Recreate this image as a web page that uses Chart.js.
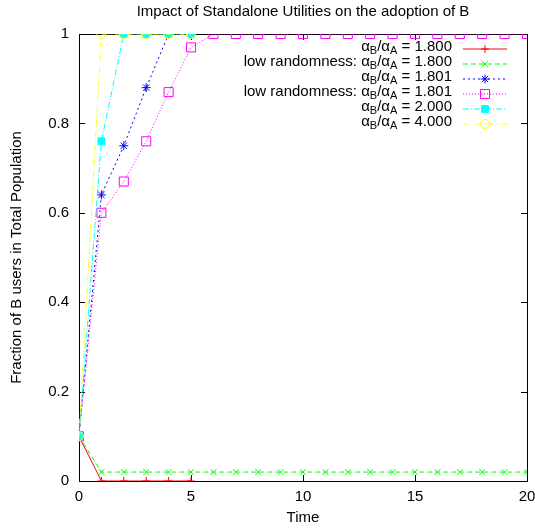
<!DOCTYPE html>
<html>
<head>
<meta charset="utf-8">
<script src="https://cdn.jsdelivr.net/npm/chart.js@4.4.1/dist/chart.umd.min.js"></script>
<style>
    html, body { margin: 0; padding: 0; background: #fff; }
</style>
</head>
<body>
<canvas id="myChart" width="535" height="529"></canvas>
<script>
const time = [0, 1, 2, 3, 4, 5, 6, 7, 8, 9, 10, 11, 12, 13, 14, 15, 16, 17, 18, 19, 20];
const ratios = ["1.800", "1.800", "1.801", "1.801", "2.000", "4.000"];
const prefixes = ["", "low randomness: ", "", "low randomness: ", "", ""];

const r1800 = [0.1, 0, 0, 0, 0, 0];
const low1800 = [0.1, 0.02, 0.02, 0.02, 0.02, 0.02, 0.02, 0.02, 0.02, 0.02, 0.02,
    0.02, 0.02, 0.02, 0.02, 0.02, 0.02, 0.02, 0.02, 0.02, 0.02];
const r1801 = [0.1, 0.64, 0.75, 0.88, 1, 1];
const low1801 = [0.1, 0.6, 0.67, 0.76, 0.87, 0.97, 1, 1, 1, 1, 1,
    1, 1, 1, 1, 1, 1, 1, 1, 1, 1];
const r2000 = [0.1, 0.76, 1, 1, 1, 1];
const r4000 = [0.1, 1, 1, 1, 1, 1];

const xTicks = [0, 5, 10, 15, 20];
const yTicks = [0, 0.2, 0.4, 0.6, 0.8, 1];

const FONT = "'Liberation Sans', Arial, sans-serif";

function pts(values) {
    return values.map((v, i) => ({ x: time[i], y: v }));
}

function series(values, color, dash, style, radius, filled) {
    return {
        data: pts(values),
        borderColor: color,
        backgroundColor: filled ? color : "rgba(0,0,0,0)",
        borderWidth: 1,
        borderDash: dash,
        pointStyle: style,
        pointRadius: radius,
        pointHoverRadius: radius,
        pointBorderWidth: 1,
        pointBorderColor: color,
        pointBackgroundColor: filled ? color : "rgba(0,0,0,0)",
        tension: 0,
        fill: false,
    };
}

const datasets = [
    series(r1800, "#ff0000", [], "cross", 4, false),
    series(low1800, "#00ff00", [5, 3], "crossRot", 4, false),
    series(r1801, "#0000ff", [2, 3], "star", 4.5, false),
    series(low1801, "#ff00ff", [1, 2], "rect", 6.4, false),
    series(r2000, "#00ffff", [6, 2, 1, 2], "rect", 4.8, true),
    series(r4000, "#ffff00", [5, 2, 1, 2, 1, 2], "circle", 4.5, false),
];
// gnuplot draws later curves on top
datasets.forEach((ds, i) => { ds.order = datasets.length - i; });

const frame = {
    id: "frame",
    beforeDatasetsDraw(chart) {
        const ctx = chart.ctx;
        const a = chart.chartArea;
        const xs = chart.scales.x, ys = chart.scales.y;
        ctx.save();
        ctx.strokeStyle = "#000";
        ctx.lineWidth = 1;
        ctx.beginPath();
        xTicks.forEach((t) => {
            const px = Math.round(xs.getPixelForValue(t)) + 0.5;
            ctx.moveTo(px, a.bottom); ctx.lineTo(px, a.bottom - 6);
            ctx.moveTo(px, a.top); ctx.lineTo(px, a.top + 6);
        });
        yTicks.forEach((t) => {
            const py = Math.round(ys.getPixelForValue(t)) + 0.5;
            ctx.moveTo(a.left, py); ctx.lineTo(a.left + 6, py);
            ctx.moveTo(a.right, py); ctx.lineTo(a.right - 6, py);
        });
        ctx.stroke();
        ctx.strokeRect(Math.round(a.left) + 0.5, Math.round(a.top) + 0.5,
            Math.round(a.right - a.left), Math.round(a.bottom - a.top));
        ctx.restore();
    },
};

const gpLegend = {
    id: "gpLegend",
    afterDraw(chart) {
        const ctx = chart.ctx;
        const a = chart.chartArea;
        const textRight = a.right - 75;
        const x0 = a.right - 64, x1 = a.right - 20;
        const big = "15px " + FONT, small = "11px " + FONT;
        ctx.save();
        ctx.textBaseline = "middle";
        ctx.textAlign = "left";
        chart.data.datasets.forEach((ds, i) => {
            const y = Math.round(a.top + 15 + i * 15);
            const ty = y - 2;
            const parts = [
                [prefixes[i] + "\u03b1", big, 0],
                ["B", small, 4],
                ["/\u03b1", big, 0],
                ["A", small, 4],
                [" = " + ratios[i], big, 0],
            ];
            let total = 0;
            parts.forEach((p) => { ctx.font = p[1]; total += ctx.measureText(p[0]).width; });
            let x = textRight - total;
            ctx.fillStyle = "#000";
            parts.forEach((p) => {
                ctx.font = p[1];
                ctx.fillText(p[0], x, ty + p[2]);
                x += ctx.measureText(p[0]).width;
            });
            ctx.strokeStyle = ds.borderColor;
            ctx.lineWidth = 1;
            ctx.setLineDash(ds.borderDash);
            ctx.beginPath();
            ctx.moveTo(x0, y);
            ctx.lineTo(x1, y);
            ctx.stroke();
            ctx.setLineDash([]);
            ctx.fillStyle = ds.pointBackgroundColor;
            Chart.helpers.drawPoint(ctx, {
                pointStyle: ds.pointStyle, radius: ds.pointRadius, rotation: 0, borderWidth: 1,
            }, (x0 + x1) / 2, y);
        });
        ctx.restore();
    },
};

const ctx = document.getElementById("myChart").getContext("2d");
const myChart = new Chart(ctx, {
    type: "line",
    data: { datasets: datasets },
    options: {
        responsive: false,
        animation: false,
        devicePixelRatio: 1,
        layout: { padding: { left: 0, right: 0, top: 0, bottom: 0 } },
        plugins: {
            legend: { display: false },
            tooltip: { enabled: false },
            title: {
                display: true,
                fullSize: false,
                text: "Impact of Standalone Utilities on the adoption of B",
                color: "#000",
                font: { family: FONT, size: 15, weight: "normal" },
                padding: { top: 3, bottom: 13 },
            },
        },
        scales: {
            x: {
                type: "linear",
                min: 0,
                max: 20,
                grid: { display: false, drawTicks: false },
                border: { display: false },
                afterFit: (s) => { s.height = 48; s.paddingRight = 8; s.paddingLeft = 0; },
                afterBuildTicks: (s) => { s.ticks = xTicks.map((v) => ({ value: v })); },
                ticks: {
                    color: "#000",
                    padding: 7,
                    maxRotation: 0,
                    font: { family: FONT, size: 15 },
                },
                title: {
                    display: true,
                    text: "Time",
                    color: "#000",
                    font: { family: FONT, size: 15 },
                    padding: { top: 0, bottom: 2 },
                },
            },
            y: {
                min: 0,
                max: 1,
                grid: { display: false, drawTicks: false },
                border: { display: false },
                afterFit: (s) => { s.width = 79; s.paddingTop = 0; s.paddingBottom = 0; },
                afterBuildTicks: (s) => { s.ticks = yTicks.map((v) => ({ value: v })); },
                ticks: {
                    color: "#000",
                    padding: 10,
                    font: { family: FONT, size: 15 },
                    callback: (v) => String(Math.round(v * 10) / 10),
                },
                title: {
                    display: true,
                    text: "Fraction of B users in Total Population",
                    color: "#000",
                    font: { family: FONT, size: 15 },
                    padding: { top: 8, bottom: 0 },
                },
            },
        },
    },
    plugins: [frame, gpLegend],
});
</script>
</body>
</html>
